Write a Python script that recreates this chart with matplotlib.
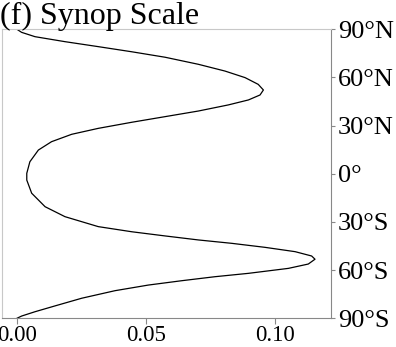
import matplotlib
matplotlib.use("Agg")
import matplotlib.pyplot as plt

# Zonal profile of synoptic-scale variance against latitude
lat = [90.0, 88.1, 85.4, 82.3, 79.2, 76.0, 72.6, 68.2, 64.0, 59.9, 55.7, 52.2,
       49.1, 46.0, 42.9, 39.1, 35.6, 32.1, 28.3, 24.6, 20.0, 14.8, 7.5, 0.3,
       -3.9, -12.1, -20.5, -26.7, -32.9, -36.1, -38.7, -41.2, -43.3, -45.8,
       -48.5, -51.2, -53.2, -56.2, -58.9, -62.0, -64.1, -66.6, -69.3, -72.8,
       -77.5, -82.3, -85.9, -88.6, -90.0]
value = [0.0000, 0.0018, 0.0070, 0.0186, 0.0315, 0.0445, 0.0574, 0.0703,
         0.0806, 0.0884, 0.0935, 0.0955, 0.0942, 0.0897, 0.0819, 0.0703,
         0.0574, 0.0445, 0.0315, 0.0212, 0.0134, 0.0083, 0.0050, 0.0038,
         0.0038, 0.0057, 0.0109, 0.0186, 0.0315, 0.0445, 0.0574, 0.0703,
         0.0832, 0.0961, 0.1078, 0.1142, 0.1155, 0.1129, 0.1052, 0.0897,
         0.0767, 0.0638, 0.0509, 0.0380, 0.0251, 0.0147, 0.0070, 0.0018,
         0.0000]

xticks = [0.00, 0.05, 0.10]
xticklabels = ["0.00", "0.05", "0.10"]
yticks = [90, 60, 30, 0, -30, -60, -90]
yticklabels = ["90°N", "60°N", "30°N", "0°", "30°S", "60°S", "90°S"]

plt.rcParams["font.family"] = ["Liberation Serif", "DejaVu Serif"]

W, H = 396, 347
fig = plt.figure(figsize=(W / 100, H / 100), dpi=100)
ax = fig.add_axes([2 / W, 1 - 318.3 / H, (331 - 2) / W, (318.3 - 29.3) / H])

ax.plot(value, lat, color="black", lw=0.9, solid_joinstyle="round")

ax.set_xlim(-0.0058, 0.1217)
ax.set_ylim(-90, 90)
ax.set_xticks(xticks)
ax.set_xticklabels(xticklabels)
ax.set_yticks(yticks)
ax.set_yticklabels(yticklabels)
ax.yaxis.tick_right()

ax.tick_params(axis="x", direction="out", length=4, width=0.8, color="#888888",
               labelsize=16.5, pad=1)
ax.tick_params(axis="y", direction="out", length=3, width=0.8, color="#888888",
               labelsize=19, pad=2)

ax.spines["left"].set_color("#c8c8c8")
ax.spines["top"].set_color("#c8c8c8")
ax.spines["right"].set_color("#888888")
ax.spines["bottom"].set_color("#888888")
for s in ax.spines.values():
    s.set_linewidth(0.8)

fig.text(0 / W, 1 - 2 / H, "(f) Synop Scale", fontsize=23, ha="left", va="top")

fig.savefig("out.png", dpi=100)
